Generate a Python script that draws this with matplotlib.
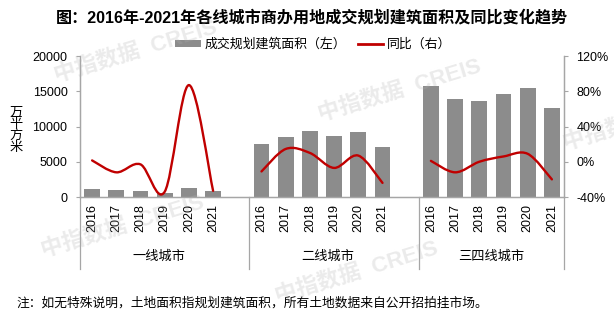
import matplotlib
matplotlib.use("Agg")
import matplotlib.pyplot as plt
import numpy as np
from matplotlib.path import Path
from matplotlib.patches import PathPatch, Patch
from matplotlib.lines import Line2D
import matplotlib.transforms as mtransforms

plt.rcParams["font.family"] = ["Liberation Sans", "Noto Sans CJK SC"]

years = ["2016", "2017", "2018", "2019", "2020", "2021"]
groups = ["一线城市", "二线城市", "三四线城市"]

# 成交规划建筑面积（万平方米）
area_tier1 = [1100, 950, 900, 600, 1250, 850]
area_tier2 = [7540, 8530, 9300, 8680, 9250, 7070]
area_tier3 = [15690, 13840, 13560, 14560, 15500, 12620]

# 同比（%）
yoy_tier1 = [1.5, -12, -3, -34, 87, -33]
yoy_tier2 = [-11, 14.5, 10, -7, 7, -24]
yoy_tier3 = [1, -12, 0, 6, 9, -20]

GRAY = "#8c8c8c"
RED = "#c00000"
AXIS = "#a6a6a6"


def smooth_path(xs, ys):
    """Catmull-Rom style cubic Bezier through the points (like a smoothed line)."""
    pts = np.column_stack([xs, ys]).astype(float)
    ext = np.vstack([pts[0], pts, pts[-1]])
    verts = [pts[0]]
    codes = [Path.MOVETO]
    for i in range(len(pts) - 1):
        p0, p1, p2, p3 = ext[i], ext[i + 1], ext[i + 2], ext[i + 3]
        verts += [p1 + (p2 - p0) / 6, p2 - (p3 - p1) / 6, p2]
        codes += [Path.CURVE4] * 3
    return Path(verts, codes)


fig = plt.figure(figsize=(6.14, 3.24), dpi=100)
ax = fig.add_axes([80 / 614, 1 - 197 / 324, (564 - 80) / 614, (197 - 56) / 324])
ax2 = ax.twinx()

areas = [area_tier1, area_tier2, area_tier3]
yoys = [yoy_tier1, yoy_tier2, yoy_tier3]
xticks, xlabels = [], []
for g, (a, r) in enumerate(zip(areas, yoys)):
    # one empty slot between city tiers
    x = np.arange(len(years)) + g * 7
    ax.bar(x, a, width=0.66, color=GRAY, zorder=2)
    ax2.add_patch(PathPatch(smooth_path(x, r), fill=False, edgecolor=RED,
                            lw=1.7, capstyle="round", joinstyle="round", zorder=3))
    xticks += list(x)
    xlabels += years

ax.set_xlim(-0.5, 19.5)
ax.set_ylim(0, 20000)
ax.set_yticks(range(0, 20001, 5000))
ax2.set_ylim(-40, 120)
ax2.set_yticks(range(-40, 121, 40))
ax2.set_yticklabels([f"{v}%" for v in range(-40, 121, 40)])

ax.set_xticks(xticks)
ax.set_xticklabels(xlabels, rotation=90, fontsize=9)
ax.tick_params(axis="x", length=0, pad=5)
ax.tick_params(axis="y", length=3, color=AXIS, labelsize=9, pad=6)
ax2.tick_params(axis="y", length=3, color=AXIS, labelsize=9, pad=6)

for a in (ax, ax2):
    a.spines["top"].set_visible(False)
    for s in ("left", "right", "bottom"):
        a.spines[s].set_color(AXIS)
        a.spines[s].set_linewidth(0.9)

# group separators below the category axis, and group names
trans = mtransforms.blended_transform_factory(ax.transData, ax.transAxes)
for xs in (-0.5, 6.5, 13.5, 19.5):
    ax.add_line(Line2D([xs, xs], [0, -0.51], transform=trans, color=AXIS,
                       lw=0.9, clip_on=False))
for g, name in enumerate(groups):
    ax.text(g * 7 + 2.75 if g < 2 else 16.5, -0.42, name, transform=trans,
            ha="center", va="center", fontsize=9.5)

ax.text(-0.132, 0.475, "万\n平\n方\n米", transform=ax.transAxes, ha="center",
        va="center", fontsize=9.5, linespacing=0.95)

fig.text(0.508, 0.945, "图：2016年-2021年各线城市商办用地成交规划建筑面积及同比变化趋势",
         ha="center", va="center", fontsize=11.6, fontweight="bold")

handles = [Patch(facecolor=GRAY, edgecolor="none"),
           Line2D([], [], color=RED, lw=2)]
fig.legend(handles, ["成交规划建筑面积（左）", "同比（右）"], loc="center",
           bbox_to_anchor=(0.51, 0.862), ncol=2, frameon=False, fontsize=9.3,
           handlelength=2.0, handleheight=0.5, columnspacing=0.9, handletextpad=0.25)

fig.text(16 / 614, 1 - 303 / 324,
         "注：如无特殊说明，土地面积指规划建筑面积，所有土地数据来自公开招拍挂市场。",
         ha="left", va="center", fontsize=9.2)

# light watermarks
for wx, wy in [(0.22, 0.84), (0.65, 0.72), (0.2, 0.3), (0.58, 0.16), (1.05, 0.63)]:
    fig.text(wx, wy, "中指数据  CREIS", ha="center", va="center", fontsize=16,
             fontweight="bold", color="#b0b0b0", alpha=0.25, rotation=17,
             zorder=10)

fig.savefig("out.png", dpi=100)
